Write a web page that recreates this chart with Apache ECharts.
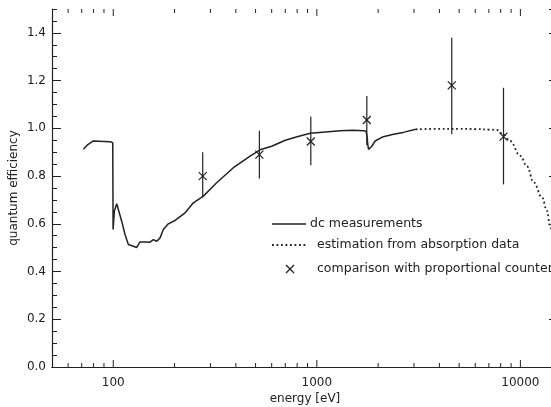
<!DOCTYPE html>
<html>
<head>
<meta charset="utf-8">
<script src="https://cdn.jsdelivr.net/npm/echarts@6/dist/echarts.min.js"></script>
<style>
  html, body { margin: 0; padding: 0; background: #fff; overflow: hidden; width: 551px; height: 407px; }
  #chart { width: 558px; height: 407px; }
</style>
</head>
<body>
<div id="chart"></div>
<script>
// dc measurements (energy in eV, quantum efficiency)
var dcEnergy = [71.3, 75, 79.8, 96.4, 98.3, 99.4, 99.8, 101.2, 104, 105.9, 110, 114.2, 118.6, 125.5, 130.3,
  135.3, 143.2, 151.6, 157.3, 163.5, 169.7, 176.2, 186.4, 201.1, 225.3, 247.4, 277, 322, 389, 470, 526,
  600, 700, 800, 927, 1100, 1300, 1500, 1700, 1745, 1765, 1780, 1795, 1830, 1862, 1933, 2120, 2380, 2660, 3060]
var dcQE = [0.912, 0.932, 0.947, 0.944, 0.94, 0.94, 0.576, 0.653, 0.684, 0.66, 0.611, 0.555, 0.513, 0.506, 0.501,
  0.524, 0.524, 0.523, 0.534, 0.527, 0.541, 0.576, 0.6, 0.614, 0.646, 0.688, 0.716, 0.772, 0.835, 0.884, 0.91,
  0.925, 0.95, 0.965, 0.979, 0.985, 0.99, 0.992, 0.99, 0.988, 0.965, 0.93, 0.912, 0.918, 0.925, 0.947, 0.965, 0.975, 0.983, 0.996]

// estimation from absorption data
var estEnergy = [3060, 4000, 5000, 6000, 7000, 7656, 8240, 8905, 9973, 10800, 11590, 12790, 13490, 14000, 14500]
var estQE = [0.996, 0.998, 0.998, 0.997, 0.995, 0.993, 0.975, 0.947, 0.885, 0.84, 0.775, 0.71, 0.655, 0.59, 0.53]

// comparison with proportional counter
var pcEnergy = [275, 522, 934, 1760, 4600, 8260]
var pcQE = [0.80, 0.89, 0.945, 1.035, 1.18, 0.965]
var pcLow = [0.71, 0.79, 0.845, 0.93, 0.975, 0.765]
var pcHigh = [0.90, 0.99, 1.05, 1.135, 1.38, 1.17]

// log axis ticks
var majorTicks = [100, 1000, 10000]
var minorTicks = [60, 70, 80, 90, 200, 300, 400, 500, 600, 700, 800, 900,
  2000, 3000, 4000, 5000, 6000, 7000, 8000, 9000]

var ink = '#222'
var font = 'DejaVu Sans'

function zip (a, b) {
  var out = []
  for (var i = 0; i < a.length; i++) out.push([a[i], b[i]])
  return out
}

var pcData = []
for (var i = 0; i < pcEnergy.length; i++) {
  pcData.push([pcEnergy[i], pcQE[i], pcLow[i], pcHigh[i]])
}

function tickSeries (values, len) {
  return {
    type: 'custom',
    xAxisIndex: 0,
    yAxisIndex: 0,
    silent: true,
    data: values.map(function (v) { return [v, 0] }),
    renderItem: function (params, api) {
      var x = api.coord([api.value(0), 0])[0]
      var r = params.coordSys
      var st = { stroke: ink, lineWidth: 1 }
      return {
        type: 'group',
        children: [
          { type: 'line', shape: { x1: x, y1: r.y + r.height, x2: x, y2: r.y + r.height - len }, style: st },
          { type: 'line', shape: { x1: x, y1: r.y, x2: x, y2: r.y + len }, style: st }
        ]
      }
    }
  }
}

function yAxisDef (pos, interval, len, labels) {
  return {
    type: 'value',
    position: pos,
    min: 0,
    max: 1.5,
    interval: interval,
    axisLine: { show: labels || pos === 'right', lineStyle: { color: ink, width: 1.2 } },
    axisTick: { show: true, inside: true, length: len, lineStyle: { color: ink, width: 1 } },
    axisLabel: {
      show: labels,
      margin: 6,
      fontFamily: font,
      fontSize: 12,
      color: ink,
      showMaxLabel: false,
      formatter: function (v) { return v.toFixed(1) }
    },
    splitLine: { show: false },
    name: labels ? 'quantum efficiency' : '',
    nameLocation: 'middle',
    nameGap: 32,
    nameMoveOverlap: false,
    nameTextStyle: { fontFamily: font, fontSize: 12, color: ink }
  }
}

var myChart = echarts.init(document.getElementById('chart'))

var legendFont = '12.5px "DejaVu Sans"'

var option = {
  backgroundColor: '#fff',
  animation: false,
  grid: { left: 52, right: 0, top: 9, bottom: 40, containLabel: false, outerBoundsMode: 'none' },
  xAxis: [{
    type: 'log',
    logBase: 10,
    min: 50,
    max: 15300,
    position: 'bottom',
    axisLine: { lineStyle: { color: ink, width: 1.2 } },
    axisTick: { show: false },
    axisLabel: {
      margin: 10,
      fontFamily: font,
      fontSize: 12,
      color: ink,
      showMinLabel: false,
      showMaxLabel: false,
      formatter: function (v) {
        var l = Math.log10(v)
        return Math.abs(l - Math.round(l)) < 1e-6 ? String(Math.round(v)) : ''
      }
    },
    splitLine: { show: false },
    name: 'energy [eV]',
    nameLocation: 'middle',
    nameGap: 26,
    nameMoveOverlap: false,
    nameTextStyle: { fontFamily: font, fontSize: 12, color: ink }
  }, {
    type: 'log',
    logBase: 10,
    min: 50,
    max: 15300,
    position: 'top',
    axisLine: { lineStyle: { color: ink, width: 1.2 } },
    axisTick: { show: false },
    axisLabel: { show: false },
    splitLine: { show: false }
  }],
  yAxis: [
    yAxisDef('left', 0.2, 9, true),
    yAxisDef('left', 0.05, 5, false),
    yAxisDef('right', 0.2, 9, false),
    yAxisDef('right', 0.05, 5, false)
  ],
  series: [{
    name: 'dc measurements',
    type: 'line',
    data: zip(dcEnergy, dcQE),
    symbol: 'none',
    lineStyle: { color: ink, width: 1.5 }
  }, {
    name: 'estimation from absorption data',
    type: 'line',
    data: zip(estEnergy, estQE),
    symbol: 'none',
    smooth: 0.4,
    smoothMonotone: 'x',
    lineStyle: { color: ink, width: 1.8, type: [1.8, 2.7] }
  }, {
    name: 'comparison with proportional counter',
    type: 'custom',
    data: pcData,
    renderItem: function (params, api) {
      var c = api.coord([api.value(0), api.value(1)])
      var lo = api.coord([api.value(0), api.value(2)])
      var hi = api.coord([api.value(0), api.value(3)])
      var s = 4
      var st = { stroke: ink, lineWidth: 1.2 }
      return {
        type: 'group',
        children: [
          { type: 'line', shape: { x1: c[0], y1: lo[1], x2: c[0], y2: hi[1] }, style: st },
          { type: 'line', shape: { x1: c[0] - s, y1: c[1] - s, x2: c[0] + s, y2: c[1] + s }, style: st },
          { type: 'line', shape: { x1: c[0] - s, y1: c[1] + s, x2: c[0] + s, y2: c[1] - s }, style: st }
        ]
      }
    }
  },
  tickSeries(majorTicks, 7),
  tickSeries(minorTicks, 4)
  ],
  graphic: [
    { type: 'line', shape: { x1: 272, y1: 224, x2: 306, y2: 224 }, style: { stroke: ink, lineWidth: 1.5 } },
    { type: 'text', x: 310, y: 224, style: { text: 'dc measurements', font: legendFont, fill: ink, textVerticalAlign: 'middle' } },
    { type: 'line', shape: { x1: 272, y1: 245, x2: 306, y2: 245 }, style: { stroke: ink, lineWidth: 1.8, lineDash: [1.8, 2.7] } },
    { type: 'text', x: 317, y: 245, style: { text: 'estimation from absorption data', font: legendFont, fill: ink, textVerticalAlign: 'middle' } },
    { type: 'line', shape: { x1: 286, y1: 265, x2: 294, y2: 273 }, style: { stroke: ink, lineWidth: 1.2 } },
    { type: 'line', shape: { x1: 286, y1: 273, x2: 294, y2: 265 }, style: { stroke: ink, lineWidth: 1.2 } },
    { type: 'text', x: 317, y: 269, style: { text: 'comparison with proportional counters', font: legendFont, fill: ink, textVerticalAlign: 'middle' } }
  ]
}

myChart.setOption(option)
</script>
</body>
</html>
